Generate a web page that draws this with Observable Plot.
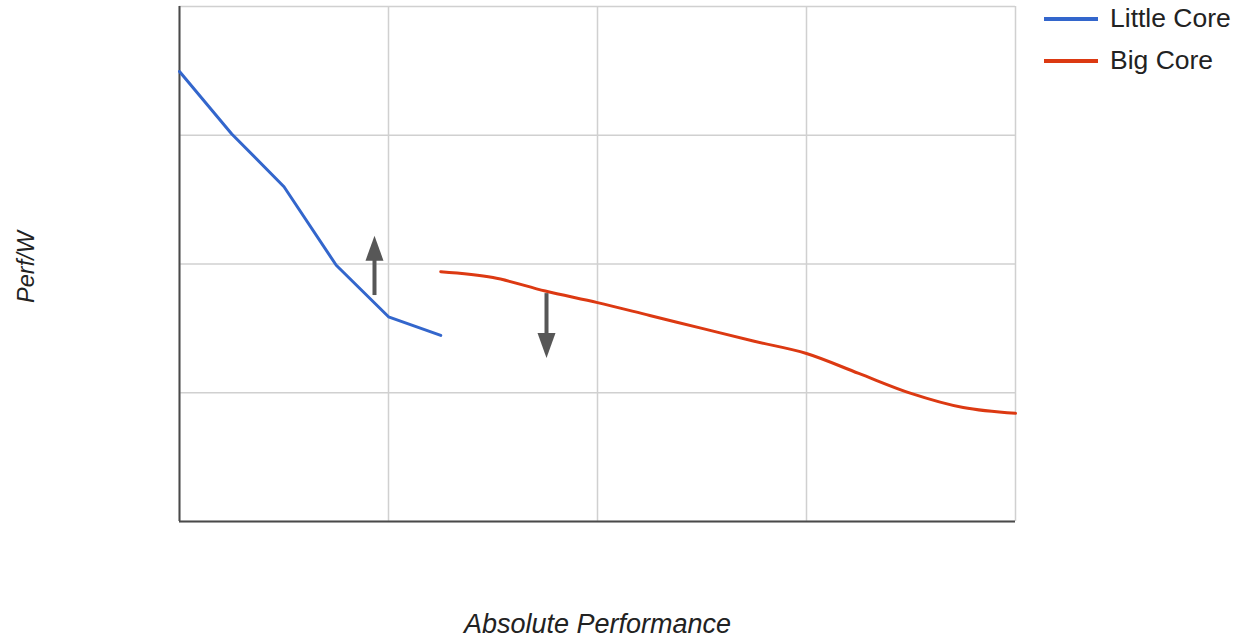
<!DOCTYPE html>
<html>
<head>
<meta charset="utf-8">
<script src="https://cdn.jsdelivr.net/npm/d3@7"></script>
<script src="https://cdn.jsdelivr.net/npm/@observablehq/plot@0.6"></script>
<style>
  html, body { margin: 0; padding: 0; background: #fff; }
  #wrap { position: relative; width: 1238px; height: 638px; font-family: "Liberation Sans", Arial, sans-serif; }
  #legend { position: absolute; left: 1044px; top: 0; }
  .item { position: absolute; left: 0; display: flex; align-items: center; white-space: nowrap; font-size: 26.5px; color: #222; }
  .swatch { width: 54px; height: 4px; margin-right: 12px; }
</style>
</head>
<body>
<div id="wrap"></div>
<script>
// Data
const seriesNames = ["Little Core", "Big Core"];
const seriesColors = ["#3366cc", "#dc3912"];
const littleX = [0, 0.25, 0.5, 0.75, 1.0, 1.25];
const littleY = [3.495, 3.01, 2.60, 1.99, 1.59, 1.445];
const bigX = [1.25, 1.5, 1.75, 2.0, 2.25, 2.5, 2.75, 3.0, 3.25, 3.5, 3.75, 4.0];
const bigY = [1.94, 1.895, 1.79, 1.70, 1.60, 1.50, 1.40, 1.305, 1.15, 0.995, 0.885, 0.84];
const gridTicks = [0, 1, 2, 3, 4];
// annotation arrows: x, tail value, tip value
const upArrows = [{x: 0.933, from: 1.755, to: 2.22}];
const downArrows = [{x: 1.756, from: 1.77, to: 1.27}];
const xTitle = "Absolute Performance";
const yTitle = "Perf/W";

const little = littleX.map((x, i) => ({x, y: littleY[i]}));
const big = bigX.map((x, i) => ({x, y: bigY[i]}));

const arrowGray = "#575757";
const triUp = {draw(ctx) { ctx.moveTo(0, 0); ctx.lineTo(9, 25); ctx.lineTo(-9, 25); ctx.closePath(); }};
const triDown = {draw(ctx) { ctx.moveTo(0, 0); ctx.lineTo(9, -25); ctx.lineTo(-9, -25); ctx.closePath(); }};

const chart = Plot.plot({
  width: 1238,
  height: 638,
  marginLeft: 179,
  marginRight: 223,
  marginTop: 6,
  marginBottom: 117,
  style: {fontFamily: "'Liberation Sans', Arial, sans-serif", background: "#fff"},
  x: {domain: [0, 4], axis: null},
  y: {domain: [0, 4], axis: null},
  marks: [
    Plot.ruleX(gridTicks, {stroke: "#d0d0d0", strokeWidth: 1.5}),
    Plot.ruleY(gridTicks, {stroke: "#d0d0d0", strokeWidth: 1.5}),
    Plot.ruleX([0], {stroke: "#4a4a4a", strokeWidth: 2}),
    Plot.ruleY([0], {stroke: "#4a4a4a", strokeWidth: 2}),
    Plot.line(little, {x: "x", y: "y", stroke: seriesColors[0], strokeWidth: 3}),
    Plot.line(big, {x: "x", y: "y", stroke: seriesColors[1], strokeWidth: 3, curve: "monotone-x"}),
    Plot.ruleX(upArrows, {x: "x", y1: "to", y2: "from", stroke: arrowGray, strokeWidth: 4, insetTop: 18}),
    Plot.dot(upArrows, {x: "x", y: "to", symbol: triUp, fill: arrowGray, stroke: "none"}),
    Plot.ruleX(downArrows, {x: "x", y1: "from", y2: "to", stroke: arrowGray, strokeWidth: 4, insetBottom: 18}),
    Plot.dot(downArrows, {x: "x", y: "to", symbol: triDown, fill: arrowGray, stroke: "none"}),
    Plot.text([xTitle], {text: d => d, frameAnchor: "bottom", dy: 111, fontSize: 27, fontStyle: "italic", fill: "#222"}),
    Plot.text([yTitle], {text: d => d, frameAnchor: "left", textAnchor: "middle", dx: -153, dy: 3, rotate: -90, fontSize: 23.5, fontStyle: "italic", fill: "#222"})
  ]
});

const wrap = document.getElementById("wrap");
wrap.appendChild(chart);

const legend = document.createElement("div");
legend.id = "legend";
seriesNames.forEach((name, i) => {
  const item = document.createElement("div");
  item.className = "item";
  item.style.top = (3 + i * 42) + "px";
  const sw = document.createElement("span");
  sw.className = "swatch";
  sw.style.background = seriesColors[i];
  item.appendChild(sw);
  item.appendChild(document.createTextNode(name));
  legend.appendChild(item);
});
wrap.appendChild(legend);
</script>
</body>
</html>
